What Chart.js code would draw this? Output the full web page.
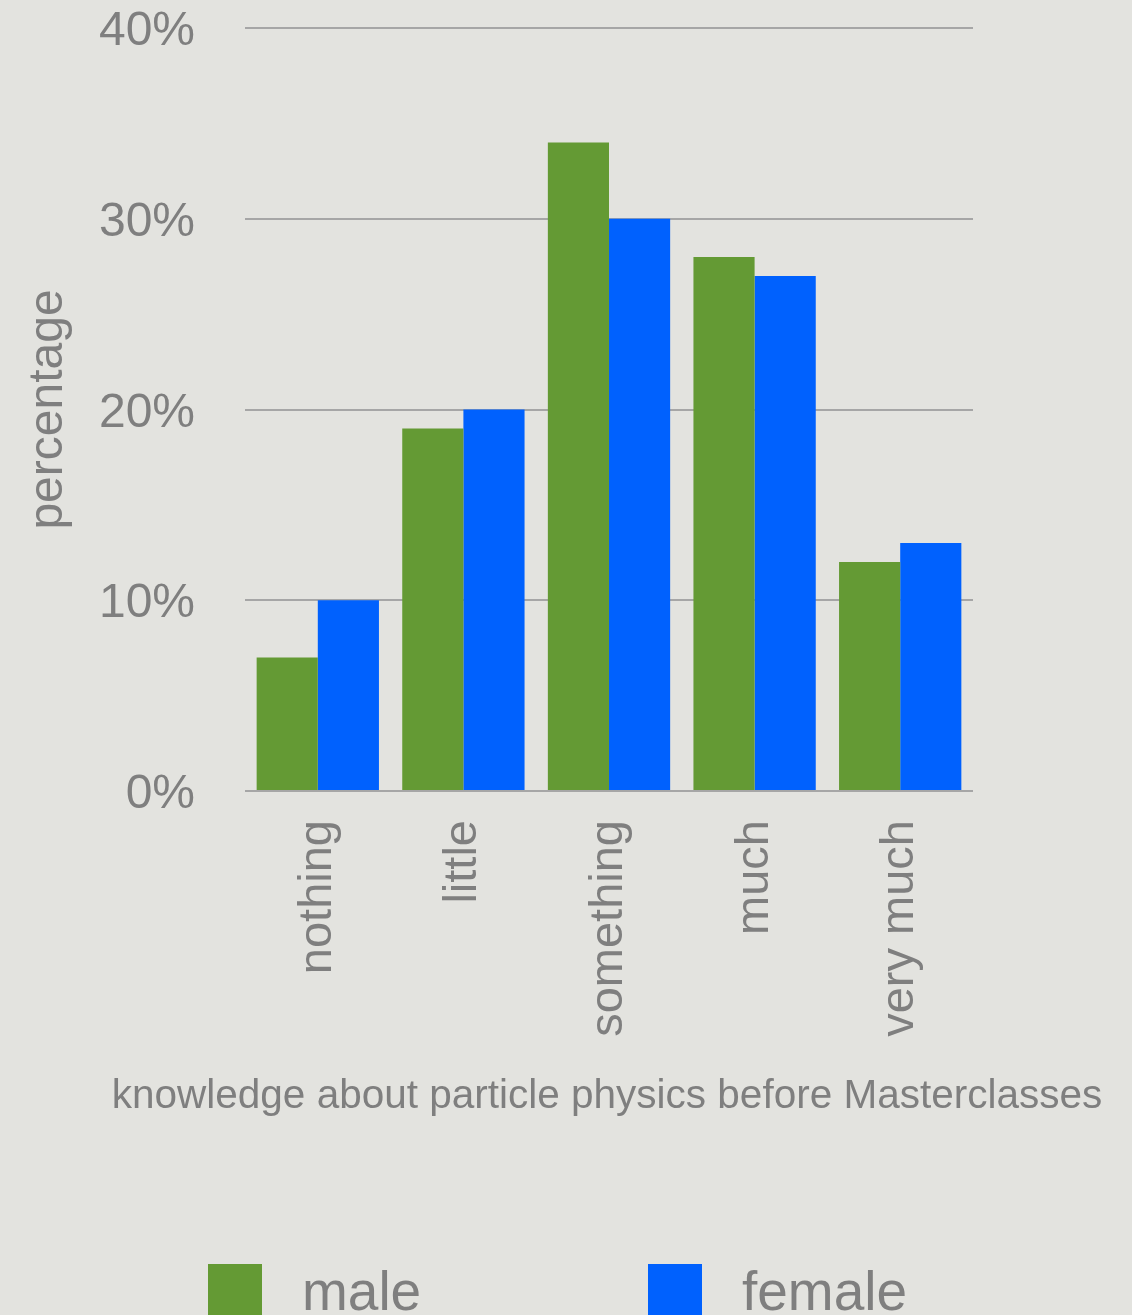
<!DOCTYPE html>
<html lang="en">
<head>
    <meta charset="UTF-8">
    <title>Knowledge about particle physics</title>
    <script src="https://cdn.jsdelivr.net/npm/chart.js@4"></script>
    <style>
        html, body { margin: 0; padding: 0; background: #e3e3df; overflow: hidden; }
        .frame { width: 1132px; height: 1315px; position: relative; }
    </style>
</head>
<body>
    <div class="frame">
        <canvas id="knowledgeChart"></canvas>
    </div>
    <script>
        // data
        const categories = ['nothing', 'little', 'something', 'much', 'very much'];
        const maleValues = [7, 19, 34, 28, 12];
        const femaleValues = [10, 20, 30, 27, 13];
        const seriesNames = ['male', 'female'];
        const yTicks = [0, 10, 20, 30, 40];
        const xTitle = 'knowledge about particle physics before Masterclasses';

        const grey = '#7f7f7f';
        const fontFamily = '"Liberation Sans", Arial, Helvetica, sans-serif';

        // x title (the built-in one gets squeezed to the plot width) and the legend
        const extras = {
            id: 'extras',
            afterDraw(chart) {
                const ctx = chart.ctx;
                const area = chart.chartArea;
                ctx.save();
                ctx.fillStyle = grey;
                ctx.font = '40.5px ' + fontFamily;
                ctx.textAlign = 'center';
                ctx.textBaseline = 'middle';
                ctx.fillText(xTitle, (area.left + area.right) / 2 - 2, 1097);

                const startX = [208, 648];
                ctx.font = '55px ' + fontFamily;
                ctx.textAlign = 'left';
                ctx.textBaseline = 'alphabetic';
                chart.data.datasets.forEach((ds, i) => {
                    ctx.fillStyle = ds.backgroundColor;
                    ctx.fillRect(startX[i], 1264, 54, 54);
                    ctx.fillStyle = grey;
                    ctx.fillText(ds.label, startX[i] + 94, 1310);
                });
                ctx.restore();
            }
        };

        const ctx = document.getElementById('knowledgeChart').getContext('2d');
        new Chart(ctx, {
            type: 'bar',
            data: {
                labels: categories,
                datasets: [
                    { label: seriesNames[0], data: maleValues, backgroundColor: '#649a34' },
                    { label: seriesNames[1], data: femaleValues, backgroundColor: '#0061fe' }
                ]
            },
            options: {
                responsive: true,
                maintainAspectRatio: false,
                animation: false,
                categoryPercentage: 0.84,
                barPercentage: 1,
                layout: { padding: { top: 28, right: 159, bottom: 175, left: 0 } },
                plugins: {
                    legend: { display: false },
                    tooltip: { enabled: false }
                },
                scales: {
                    x: {
                        grid: { display: false, drawTicks: false },
                        border: { display: false },
                        ticks: {
                            color: grey,
                            font: { family: fontFamily, size: 47 },
                            minRotation: 90,
                            maxRotation: 90,
                            autoSkip: false,
                            padding: 29
                        },
                        afterFit(scale) {
                            scale.height = 349;
                            scale.paddingTop = 0;
                            scale.paddingBottom = 0;
                        }
                    },
                    y: {
                        min: 0,
                        max: 40,
                        afterBuildTicks(scale) {
                            scale.ticks = yTicks.map(v => ({ value: v }));
                        },
                        grid: { color: '#a6a6a6', lineWidth: 2, drawTicks: false },
                        border: { display: false },
                        ticks: {
                            color: grey,
                            font: { family: fontFamily, size: 48, lineHeight: 1 },
                            padding: 50,
                            labelOffset: 4,
                            callback: v => v + '%'
                        },
                        title: {
                            display: true,
                            text: 'percentage',
                            color: grey,
                            font: { family: fontFamily, size: 48 },
                            padding: { top: 20, bottom: 0 }
                        },
                        afterFit(scale) {
                            scale.width = 245;
                            scale.paddingTop = 0;
                            scale.paddingBottom = 0;
                        }
                    }
                }
            },
            plugins: [extras]
        });
    </script>
</body>
</html>
